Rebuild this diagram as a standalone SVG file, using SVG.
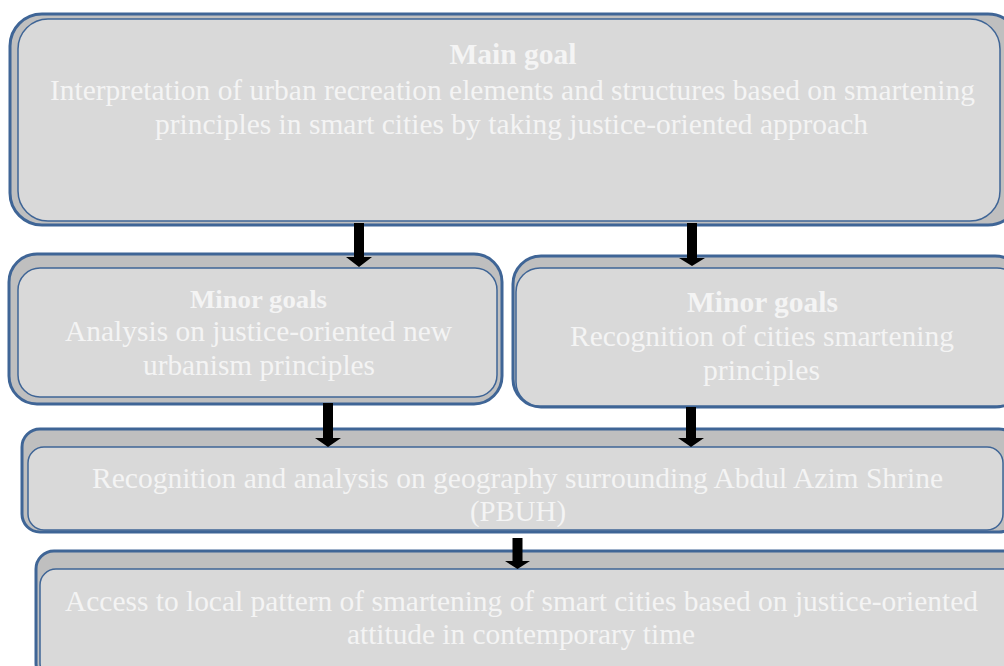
<svg xmlns="http://www.w3.org/2000/svg" width="1004" height="666" viewBox="0 0 1004 666">
  <style>
    .back { fill: #bfbfbf; stroke: #3f6596; stroke-width: 3; }
    .front { fill: #d9d9d9; stroke: #3f6596; stroke-width: 1.5; }
    .t { font-family: "Liberation Serif", "Times New Roman", serif; fill: #f4f4f4; text-anchor: middle; font-size: 29.5px; }
    .b { font-weight: bold; }
    .arrow { fill: #000; }
  </style>
  <rect width="1004" height="666" fill="#ffffff"/>

  <g id="main-goal">
    <rect class="back" x="10" y="14" width="1010" height="211" rx="32"/>
    <rect class="front" x="18" y="19" width="982" height="202" rx="30"/>
    <text class="t b" x="513" y="64" style="font-size:30px" textLength="127" lengthAdjust="spacingAndGlyphs">Main goal</text>
    <text class="t" x="512.5" y="100" textLength="925" lengthAdjust="spacingAndGlyphs">Interpretation of urban recreation elements and structures based on smartening</text>
    <text class="t" x="511.5" y="134" textLength="713" lengthAdjust="spacingAndGlyphs">principles in smart cities by taking justice-oriented approach</text>
  </g>

  <g id="minor-goal-left">
    <rect class="back" x="9" y="254" width="493" height="150" rx="28"/>
    <rect class="front" x="18" y="268" width="479" height="129" rx="22"/>
    <text class="t b" x="258.5" y="308" style="font-size:25px" textLength="137" lengthAdjust="spacingAndGlyphs">Minor goals</text>
    <text class="t" x="258.5" y="341" textLength="387" lengthAdjust="spacingAndGlyphs">Analysis on justice-oriented new</text>
    <text class="t" x="259" y="375" textLength="232" lengthAdjust="spacingAndGlyphs">urbanism principles</text>
  </g>

  <g id="minor-goal-right">
    <rect class="back" x="513" y="256" width="510" height="151" rx="28"/>
    <rect class="front" x="516" y="268" width="505" height="138" rx="24"/>
    <text class="t b" x="762.5" y="312" style="font-size:30px" textLength="151" lengthAdjust="spacingAndGlyphs">Minor goals</text>
    <text class="t" x="762" y="346" textLength="384" lengthAdjust="spacingAndGlyphs">Recognition of cities smartening</text>
    <text class="t" x="761.5" y="380" textLength="117" lengthAdjust="spacingAndGlyphs">principles</text>
  </g>

  <g id="geography">
    <rect class="back" x="22" y="429" width="995" height="103" rx="18"/>
    <rect class="front" x="28" y="447" width="975" height="83" rx="16"/>
    <text class="t" x="517.5" y="488" textLength="851" lengthAdjust="spacingAndGlyphs">Recognition and analysis on geography surrounding Abdul Azim Shrine</text>
    <text class="t" x="518" y="521" textLength="96" lengthAdjust="spacingAndGlyphs">(PBUH)</text>
  </g>

  <g id="local-pattern">
    <rect class="back" x="36" y="551" width="990" height="130" rx="18"/>
    <rect class="front" x="40" y="569" width="978" height="110" rx="16"/>
    <text class="t" x="521.5" y="611" textLength="913" lengthAdjust="spacingAndGlyphs">Access to local pattern of smartening of smart cities based on justice-oriented</text>
    <text class="t" x="521" y="644" textLength="348" lengthAdjust="spacingAndGlyphs">attitude in contemporary time</text>
  </g>

  <g id="connectors">
    <!-- block arrows: shaft 10 wide, head 26 wide -->
    <path class="arrow" d="M354,223 H364 V257 H372 L359,267 L346,257 H354 Z"/>
    <path class="arrow" d="M687,223 H697 V258 H705 L692,266 L679,258 H687 Z"/>
    <path class="arrow" d="M323,403 H333 V438 H341 L328,447 L315,438 H323 Z"/>
    <path class="arrow" d="M686,407 H696 V438 H704 L691,447 L678,438 H686 Z"/>
    <path class="arrow" d="M512.5,538 H522.5 V561 H530 L517.5,569 L505,561 H512.5 Z"/>
  </g>
</svg>
